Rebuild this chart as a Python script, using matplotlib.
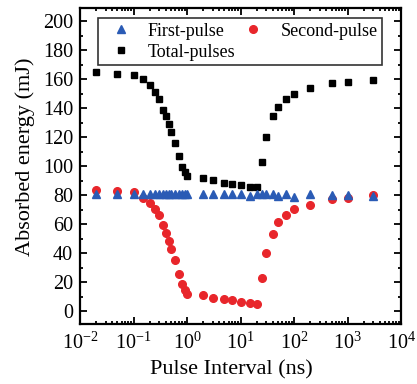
import numpy as np
import matplotlib.pyplot as plt
from matplotlib.ticker import LogLocator, MultipleLocator, NullFormatter

plt.rcParams['font.family'] = ['Liberation Serif', 'DejaVu Serif']
plt.rcParams['mathtext.fontset'] = 'stix'

interval = [0.02, 0.05, 0.1, 0.15, 0.2, 0.25, 0.3, 0.35, 0.4, 0.45, 0.5, 0.6, 0.7, 0.8, 0.9, 1,
            2, 3, 5, 7, 10, 15, 20, 25, 30, 40, 50, 70, 100, 200, 500, 1000, 3000]
first_pulse = [80.5, 80.5, 80.5, 81, 81, 80.5, 80.5, 81, 81, 80.5, 81, 81, 81, 80.5, 81, 80.5,
               80.5, 81, 80.5, 80.5, 81, 79.3, 80.5,
               80.5, 80.5, 81, 79.3, 80.5, 78.9, 81, 79.8, 79.8, 79.3]
second_pulse = [83.7, 82.8, 82.1, 78.2, 74.3, 70.1, 66, 59.1, 54.1, 48.3, 43, 35, 25.8, 18.9, 14.3, 11.5,
                11.3, 9.2, 8.6, 7.6, 6, 5.8, 5.1,
                22.6, 40, 53.4, 61.7, 66, 70.6, 73.4, 77, 78.2, 80]
total_pulses = [165.1, 163.4, 162.8, 159.8, 155.9, 151.3, 146, 138.6, 134.5, 129.2, 123.7, 116.1, 106.9, 99.6, 95.9, 93.1,
                91.5, 90.3, 88.6, 87.6, 86.9, 85.3, 85.3,
                102.8, 120.3, 134.5, 140.7, 146, 149.4, 153.6, 157, 158.2, 159.1]

fig = plt.figure(figsize=(4.17, 3.84), dpi=100)
ax = fig.add_axes([0.192, 0.156, 0.77, 0.823])

ax.plot(interval, total_pulses, 's', color='black', ms=5, label='Total-pulses')
ax.plot(interval, second_pulse, 'o', color='#e8262b', ms=5.5, label='Second-pulse')
ax.plot(interval, first_pulse, '^', color='#2a5bb5', ms=5.5, label='First-pulse')

ax.set_xscale('log')
ax.set_xlim(1e-2, 1e4)
ax.set_ylim(-9, 209)
ax.xaxis.set_major_locator(LogLocator(base=10, numticks=10))
ax.xaxis.set_minor_locator(LogLocator(base=10, subs=np.arange(2, 10), numticks=10))
ax.xaxis.set_minor_formatter(NullFormatter())
ax.yaxis.set_major_locator(MultipleLocator(20))
ax.yaxis.set_minor_locator(MultipleLocator(10))

ax.tick_params(which='both', direction='in', top=True, right=True, width=1.3, labelsize=14.5)
ax.tick_params(which='major', length=5)
ax.tick_params(which='minor', length=2.5)
ax.tick_params(axis='x', pad=6)
ax.tick_params(axis='y', pad=5)
for s in ax.spines.values():
    s.set_linewidth(1.6)

ax.set_xlabel('Pulse Interval (ns)', fontsize=16)
ax.set_ylabel('Absorbed energy (mJ)', fontsize=16)
ax.xaxis.set_label_coords(0.47, -0.115)
ax.yaxis.set_label_coords(-0.14, 0.53)

h, l = ax.get_legend_handles_labels()
leg = ax.legend([h[2], h[0], h[1]], [l[2], l[0], l[1]], ncol=2, loc='upper left',
                bbox_to_anchor=(0.056, 0.826, 0.885, 0.142), mode='expand',
                fontsize=13, frameon=True, fancybox=False,
                edgecolor='black', handletextpad=0.5, columnspacing=1.5, borderpad=0.25,
                labelspacing=0.22, handlelength=2.0, borderaxespad=0)
leg.get_frame().set_linewidth(1.2)

fig.savefig('out.png', dpi=100)
